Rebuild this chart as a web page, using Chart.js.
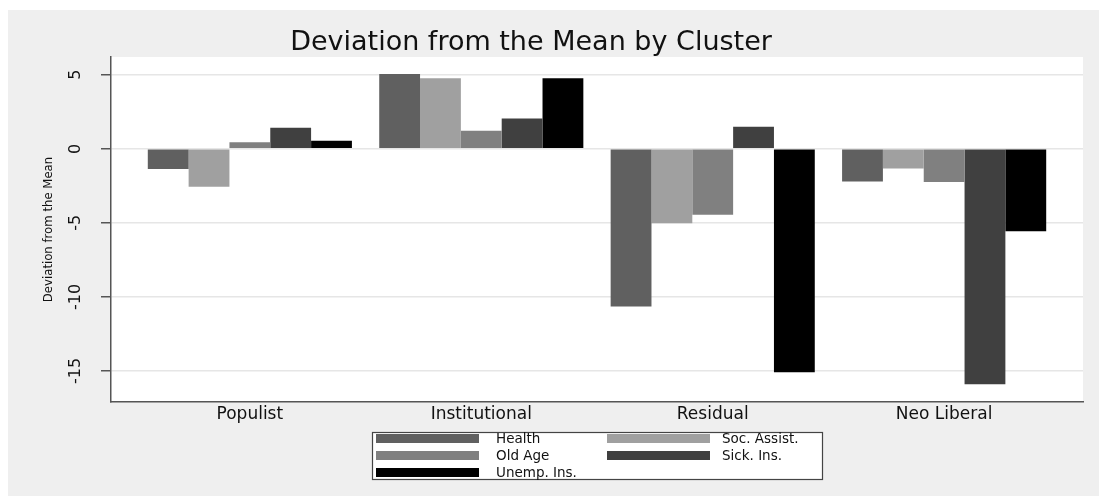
<!DOCTYPE html>
<html>
<head>
<meta charset="utf-8">
<script src="https://cdn.jsdelivr.net/npm/chart.js@4.4.1/dist/chart.umd.min.js"></script>
<style>
  html, body { margin: 0; padding: 0; background: #ffffff; }
  canvas { display: block; }
</style>
</head>
<body>
<canvas id="c" width="1099" height="496"></canvas>
<script>
// ---- data ----
const categories = ['Populist', 'Institutional', 'Residual', 'Neo Liberal'];
const seriesNames = ['Health', 'Soc. Assist.', 'Old Age', 'Sick. Ins.', 'Unemp. Ins.'];
const health    = [-1.37, 5.05, -10.65, -2.20];
const socAssist = [-2.57, 4.76, -5.02, -1.33];
const oldAge    = [0.45, 1.22, -4.46, -2.25];
const sickIns   = [1.42, 2.05, 1.49, -15.90];
const unempIns  = [0.54, 4.76, -15.09, -5.56];
const yTicks = [-15, -10, -5, 0, 5];
const titleText = 'Deviation from the Mean by Cluster';
const yTitleText = 'Deviation from the Mean';

const seriesValues = [health, socAssist, oldAge, sickIns, unempIns];
const seriesColors = ['#606060', '#a0a0a0', '#808080', '#404040', '#000000'];

const datasets = seriesNames.map((name, k) => ({
  label: name,
  data: seriesValues[k].map((v, i) => ({ x: i, y: v })),
  backgroundColor: seriesColors[k],
  borderWidth: 0,
  categoryPercentage: 0.882,
  barPercentage: 1.0
}));

const bgPlugin = {
  id: 'bg',
  beforeDraw(chart) {
    const { ctx, chartArea } = chart;
    ctx.save();
    ctx.fillStyle = '#ffffff';
    ctx.fillRect(0, 0, chart.width, chart.height);
    ctx.fillStyle = '#efefef';
    ctx.fillRect(8, 10, chart.width - 8, chart.height - 10);
    ctx.fillStyle = '#ffffff';
    ctx.fillRect(chartArea.left, chartArea.top, chartArea.right - chartArea.left, chartArea.bottom - chartArea.top);
    ctx.restore();
  },
  afterDraw(chart) {
    const ctx = chart.ctx;
    ctx.save();
    // title
    ctx.fillStyle = '#111111';
    ctx.font = '27px "DejaVu Sans", sans-serif';
    ctx.textAlign = 'center';
    ctx.textBaseline = 'alphabetic';
    ctx.fillText(titleText, 531, 50);

    // legend
    const bx = 372, by = 432, bw = 450, bh = 47;
    ctx.fillStyle = '#ffffff';
    ctx.fillRect(bx, by, bw, bh);
    ctx.strokeStyle = '#444444';
    ctx.lineWidth = 1.2;
    ctx.strokeRect(bx + 0.5, by + 0.5, bw, bh);
    const colSwatch = [376, 607];
    const colText = [496, 722];
    const rowY = [438.5, 455.5, 472.5];
    ctx.font = '13.5px "DejaVu Sans", sans-serif';
    ctx.textAlign = 'left';
    ctx.textBaseline = 'middle';
    chart.data.datasets.forEach((ds, k) => {
      const col = k % 2, row = Math.floor(k / 2);
      ctx.fillStyle = ds.backgroundColor;
      ctx.fillRect(colSwatch[col], rowY[row] - 4.5, 103, 9);
      ctx.fillStyle = '#111111';
      ctx.fillText(ds.label, colText[col], rowY[row] + 0.5);
    });
    ctx.restore();
  }
};

new Chart(document.getElementById('c'), {
  type: 'bar',
  data: { datasets },
  plugins: [bgPlugin],
  options: {
    responsive: false,
    animation: false,
    devicePixelRatio: 1,
    layout: { padding: { top: 57, left: 31, right: 16, bottom: 64 } },
    plugins: {
      legend: { display: false },
      title: { display: false },
      tooltip: { enabled: false }
    },
    scales: {
      x: {
        type: 'linear',
        min: -0.6,
        max: 3.6,
        offset: false,
        afterBuildTicks: (s) => { s.ticks = categories.map((c, i) => ({ value: i })); },
        afterFit: (s) => { s.height = 30; },
        grid: { display: false, offset: false, drawTicks: false },
        border: { display: true, color: '#555555', width: 1.5 },
        ticks: {
          autoSkip: false,
          maxRotation: 0,
          padding: 2,
          color: '#111111',
          font: { family: '"DejaVu Sans", sans-serif', size: 17 },
          callback: (v) => (categories[v] !== undefined ? categories[v] : '')
        }
      },
      y: {
        min: -17.1,
        max: 6.2,
        afterBuildTicks: (s) => { s.ticks = yTicks.map(v => ({ value: v })); },
        afterFit: (s) => { s.width = 80; },
        grid: { color: '#e6e6e6', lineWidth: 1.5, tickColor: '#555555', tickLength: 10, drawTicks: true },
        border: { display: true, color: '#555555', width: 1.5 },
        ticks: {
          minRotation: 90,
          maxRotation: 90,
          crossAlign: 'center',
          padding: 12,
          color: '#111111',
          font: { family: '"DejaVu Sans", sans-serif', size: 16 }
        },
        title: {
          display: true,
          text: yTitleText,
          color: '#111111',
          font: { family: '"Liberation Sans Narrow", "DejaVu Sans Condensed", sans-serif', size: 13 },
          padding: { top: 10, bottom: 0 }
        }
      }
    }
  }
});
</script>
</body>
</html>
